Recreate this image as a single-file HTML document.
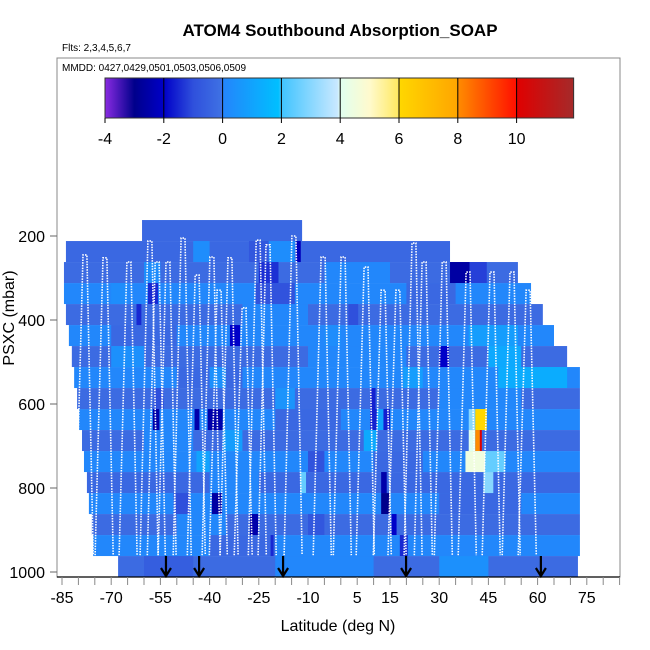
<!DOCTYPE html>
<html><head><meta charset="utf-8"><style>
html,body{margin:0;padding:0;background:#fff;}
svg{display:block;font-family:"Liberation Sans",Arial,sans-serif;}
</style></head><body>
<svg id="chart" width="650" height="650" viewBox="0 0 650 650" xmlns="http://www.w3.org/2000/svg">
<defs>
<linearGradient id="cbgrad" x1="0" x2="1" y1="0" y2="0">
</linearGradient>
</defs>
<text x="340" y="36" text-anchor="middle" font-size="17" font-weight="bold">ATOM4 Southbound Absorption_SOAP</text>
<text x="62" y="51" font-size="10">Flts: 2,3,4,5,6,7</text>
<rect x="57" y="58" width="563" height="519" fill="none" stroke="#888" stroke-width="1"/>
<text x="62" y="71" font-size="10">MMDD: 0427,0429,0501,0503,0506,0509</text>
<g id="cells"></g>
<g id="profiles"></g>
<g id="arrows"></g>
<g id="colorbar"></g>
<g id="xaxis"></g>
<g id="yaxis"></g>
<text x="338" y="631" text-anchor="middle" font-size="16">Latitude (deg N)</text>
<text x="14" y="318" text-anchor="middle" font-size="16" transform="rotate(-90 14 318)">PSXC (mbar)</text>
</svg>
<script>
// ---- data ----
const rowTopPressure = [162,212,262,312,362,412,462,512,562,612,662,712,762,812,862,912,962];
const rowLatMin = [-60.6,-83.8,-84.4,-84.4,-83.8,-82.9,-82.0,-81.3,-80.4,-79.8,-78.9,-78.3,-77.4,-76.8,-75.9,-75.5,-67.9];
const rowLatMax = [-11.8,33.3,54.0,58.0,61.6,65.0,69.0,72.9,72.9,72.9,72.9,72.9,72.9,72.9,72.9,72.9,72.3];
const rowBase = [-0.3,-0.3,-0.2,0.1,-0.2,0.1,-0.2,0.1,-0.2,0.1,-0.2,0.1,-0.3,0.1,-0.2,0.1,-0.2];
// anomalies: [row, latStart, latEnd, value]
const anomRow =   [1,1,1,1,2,2,2,2,3,3,3,4,4,5,5,5,6,6,6,7,7,7,8,8,8,9,9,9,9,9,9,9,10,10,10,10,10,11,11,11,11,12,12,12,13,13,13,14,14,14,15,15,16,16,2,4,6,8,10,12,14,16,3,5,7,9,11,13,15];
const anomStart = [-13.6,-22,-28,-45,-25,33.3,39.3,-60,-58.8,-26,-70,-62.3,2.3,-33.8,39,-5,30,45,-70,19,48,-40,-57,9,-20,-57.3,-44.6,-40.6,8.9,39,41,11,-36,7,39,41,42.4,38,44,-44,-10,12.3,43.5,-12.4,-39.3,12.3,-51,-27.7,15.5,-10,-21.4,18,-60,30,-5,-30,-10,30,-60,-40,-50,-20,20,-70,-50,-20,10,30,-40];
const anomEnd =   [-12.2,-14,-22,-40,-19,39.3,44.5,-55,-55.7,-14,-65,-60.8,5.3,-30.7,54,0,33,55,-60,25,69,-35,-54,10.6,-14,-55.3,-43.1,-36.0,15,41,44.5,13,-30,11,41,42.4,43,44,50,-40,-5,14,46.5,-10.6,-36.2,15,-46,-25.2,17,-5,-20.5,20.4,-45,45,15,-10,20,55,-45,-25,-35,10,35,-50,-30,0,25,55,-20];
const anomValue = [-2.2,0.3,-0.8,0.3,-1.4,-2.6,-1.2,0.3,-1.5,-0.9,0.3,-1.5,-1.0,-2.0,0.8,0.3,-2.0,1.2,0.4,0.8,1.3,0.4,-1.0,-1.6,0.5,-2.5,-2.5,-2.5,-1.6,3.0,6.0,1.0,0.8,1.2,4.0,8.0,10.0,4.5,2.5,1.0,-0.9,-2.5,3.0,2.5,-2.6,-3.0,-1.0,-2.5,-2.0,-0.8,-1.5,-1.5,-0.6,0.4,0.1,0.1,0.1,0.1,0.1,0.1,0.1,0.1,-0.3,-0.3,-0.3,-0.3,-0.3,-0.3,-0.3];
const peakLat = [-78,-71.9,-64.6,-58.2,-56,-52.7,-48.1,-43.8,-39.3,-37.1,-33.8,-29.5,-25.2,-22.2,-14.3,-5.4,0.7,7.7,12.9,17.4,22.3,25.4,31.5,38.8,46.1,52.2,57.1];
const peakPress = [245,252,262,212,262,262,205,293,250,329,252,371,210,221,200,250,250,274,329,329,217,262,262,286,286,286,329];
const arrowLat = [-53.3,-43.2,-17.6,19.9,61.0];
const xTickLabels = [-85,-70,-55,-40,-25,-10,5,15,30,45,60,75];
const yTickLabels = [200,400,600,800,1000];
const cbTickLabels = [-4,-2,0,2,4,6,8,10];
const cmapVal = [-4,-3,-2,-1,-0.01,0,1.9,2,3.9,4,5,5.99,6,7.99,8,9.99,10,11.94];
const cmapCol = ['#8a2be2','#00008b','#0000c8','#2f50dc','#3f72e4','#2484fb','#00bfff','#40c4ff','#c8e8ff','#e0fff0','#fffacd','#ffe860','#ffd700','#ffa500','#ff8c00','#ff1000','#e00000','#a52a2a'];

// ---- scales ----
const NS='http://www.w3.org/2000/svg';
const xs = lat => 62 + (lat + 85) * 3.28;
const ys = p => 236 + (p - 200) * 0.42;
const cbx = v => 105 + (v + 4) * 29.4;
function hex(c){return [1,3,5].map(i=>parseInt(c.substr(i,2),16));}
function color(v){
  if(v<=cmapVal[0]) return cmapCol[0];
  for(let i=1;i<cmapVal.length;i++){
    if(v<=cmapVal[i]){
      const t=(v-cmapVal[i-1])/(cmapVal[i]-cmapVal[i-1]);
      const a=hex(cmapCol[i-1]),b=hex(cmapCol[i]);
      return 'rgb('+a.map((x,k)=>Math.round(x+(b[k]-x)*t)).join(',')+')';
    }
  }
  return cmapCol[cmapCol.length-1];
}
function mk(tag,attrs,parent){const e=document.createElementNS(NS,tag);for(const k in attrs)e.setAttribute(k,attrs[k]);parent.appendChild(e);return e;}

// ---- cells ----
const cells=document.getElementById('cells');
rowTopPressure.forEach((p,i)=>{
  const r=mk('rect',{x:xs(rowLatMin[i]),y:ys(p),width:xs(rowLatMax[i])-xs(rowLatMin[i]),height:ys(p+50)-ys(p),fill:color(rowBase[i])},cells);
  
  
});
// draw large background patches first (the later indices), then details
const order=anomRow.map((_,j)=>j).sort((a,b)=>(b>=54?1:0)-(a>=54?1:0));
order.forEach(j=>{
  const row=anomRow[j];
  const s=Math.max(anomStart[j],rowLatMin[row]), e=Math.min(anomEnd[j],rowLatMax[row]);
  if(e<=s) return;
  const r=mk('rect',{x:xs(s),y:ys(rowTopPressure[row]),width:xs(e)-xs(s),height:ys(rowTopPressure[row]+50)-ys(rowTopPressure[row]),fill:color(anomValue[j])},cells);
  
  
});

// ---- profiles ----
const prof=document.getElementById('profiles');
peakLat.forEach((lat,j)=>{
  const top=peakPress[j];
  const pts=[[lat-3,960],[lat-0.6,top],[lat+0.6,top],[lat+2.5,960]].map(q=>xs(q[0]).toFixed(1)+','+ys(q[1]).toFixed(1)).join(' ');
  const pl=mk('polyline',{points:pts,fill:'none',stroke:'#fff','stroke-width':1.6,'stroke-dasharray':'1.5 1.2'},prof);
  
  
});

// ---- arrows ----
const arr=document.getElementById('arrows');
arrowLat.forEach(lat=>{
  const x=xs(lat);
  const g=mk('path',{d:`M${x} 556 L${x} 576 M${x-5} 568 L${x} 576 L${x+5} 568`,stroke:'#000','stroke-width':2.2,fill:'none'},arr);
  
  
});

// ---- colorbar ----
const cb=document.getElementById('colorbar');
const grad=document.getElementById('cbgrad');
cmapVal.forEach((v,i)=>{mk('stop',{offset:((v+4)/15.94).toFixed(4),'stop-color':cmapCol[i]},grad);});
const bar=mk('rect',{x:105,y:78,width:cbx(11.94)-105,height:40,fill:'url(#cbgrad)',stroke:'#333','stroke-width':1},cb);


cbTickLabels.forEach(v=>{
  const x=cbx(v);
  if(v>-4) mk('line',{x1:x,x2:x,y1:78,y2:118,stroke:'#000','stroke-width':1},cb);
  mk('line',{x1:x,x2:x,y1:118,y2:123,stroke:'#000','stroke-width':1},cb);
  const t=mk('text',{x:x,y:144,'text-anchor':'middle','font-size':16},cb);
  t.textContent=v;
  
  
});

// ---- axes ----
const xa=document.getElementById('xaxis');
mk('line',{x1:57,x2:620,y1:577,y2:577,stroke:'#000','stroke-width':1.2},xa);
for(let lat=-85;lat<=85;lat+=5){mk('line',{x1:xs(lat),x2:xs(lat),y1:577,y2:585,stroke:'#888','stroke-width':1},xa);}
xTickLabels.forEach(v=>{
  const t=mk('text',{x:xs(v),y:603,'text-anchor':'middle','font-size':16},xa);
  t.textContent=v;
  
  
});
const ya=document.getElementById('yaxis');
yTickLabels.forEach(v=>{
  mk('line',{x1:50,x2:57,y1:ys(v),y2:ys(v),stroke:'#666','stroke-width':1},ya);
  const t=mk('text',{x:45,y:ys(v)+6,'text-anchor':'end','font-size':16},ya);
  t.textContent=v;
  
  
});
</script>
</body></html>
